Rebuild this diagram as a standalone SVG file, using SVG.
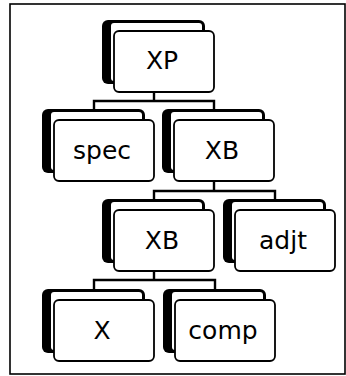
<svg xmlns="http://www.w3.org/2000/svg" xmlns:xlink="http://www.w3.org/1999/xlink" width="346" height="376" viewBox="0 0 346 376">
  <style>
    .frame { fill: #ffffff; stroke: #000000; stroke-width: 1.6; }
    .back { fill: #000000; }
    .back-inner { fill: #ffffff; }
    .front { fill: #ffffff; stroke: #000000; stroke-width: 1.8; }
    .label { font-family: "DejaVu Sans", Verdana, sans-serif; font-size: 25px; fill: #000000; text-anchor: middle; }
    .edge { fill: none; stroke: #000000; stroke-width: 2.4; stroke-linejoin: miter; }
  </style>
  <defs>
    <!-- stacked card: dark back card with thick left rim, white front card on top -->
    <g id="card">
      <rect class="back" x="-12" y="-11" width="103" height="64" rx="6"/>
      <rect class="back-inner" x="-3" y="-8" width="91" height="58" rx="3"/>
      <rect class="front" x="0" y="0" width="100" height="61" rx="5"/>
    </g>
  </defs>

  <rect class="frame" x="10" y="4" width="335" height="370"/>

  <g id="connectors">
    <path class="edge" d="M154,92 V101 M94,109 V101 H214 V109"/>
    <path class="edge" d="M214,182 V191 M154,199 V191 H275 V199"/>
    <path class="edge" d="M154,271 V280 M94,289 V280 H215 V289"/>
  </g>

  <g id="node-xp" transform="translate(114,31)">
    <use xlink:href="#card"/>
    <text class="label" x="48" y="38">XP</text>
  </g>
  <g id="node-spec" transform="translate(54,120)">
    <use xlink:href="#card"/>
    <text class="label" x="48" y="39">spec</text>
  </g>
  <g id="node-xb1" transform="translate(174,120)">
    <use xlink:href="#card"/>
    <text class="label" x="48" y="39">XB</text>
  </g>
  <g id="node-xb2" transform="translate(114,210)">
    <use xlink:href="#card"/>
    <text class="label" x="48" y="39">XB</text>
  </g>
  <g id="node-adjt" transform="translate(235,210)">
    <use xlink:href="#card"/>
    <text class="label" x="48" y="39">adjt</text>
  </g>
  <g id="node-x" transform="translate(54,300)">
    <use xlink:href="#card"/>
    <text class="label" x="48" y="39">X</text>
  </g>
  <g id="node-comp" transform="translate(175,300)">
    <use xlink:href="#card"/>
    <text class="label" x="48" y="39">comp</text>
  </g>
</svg>
